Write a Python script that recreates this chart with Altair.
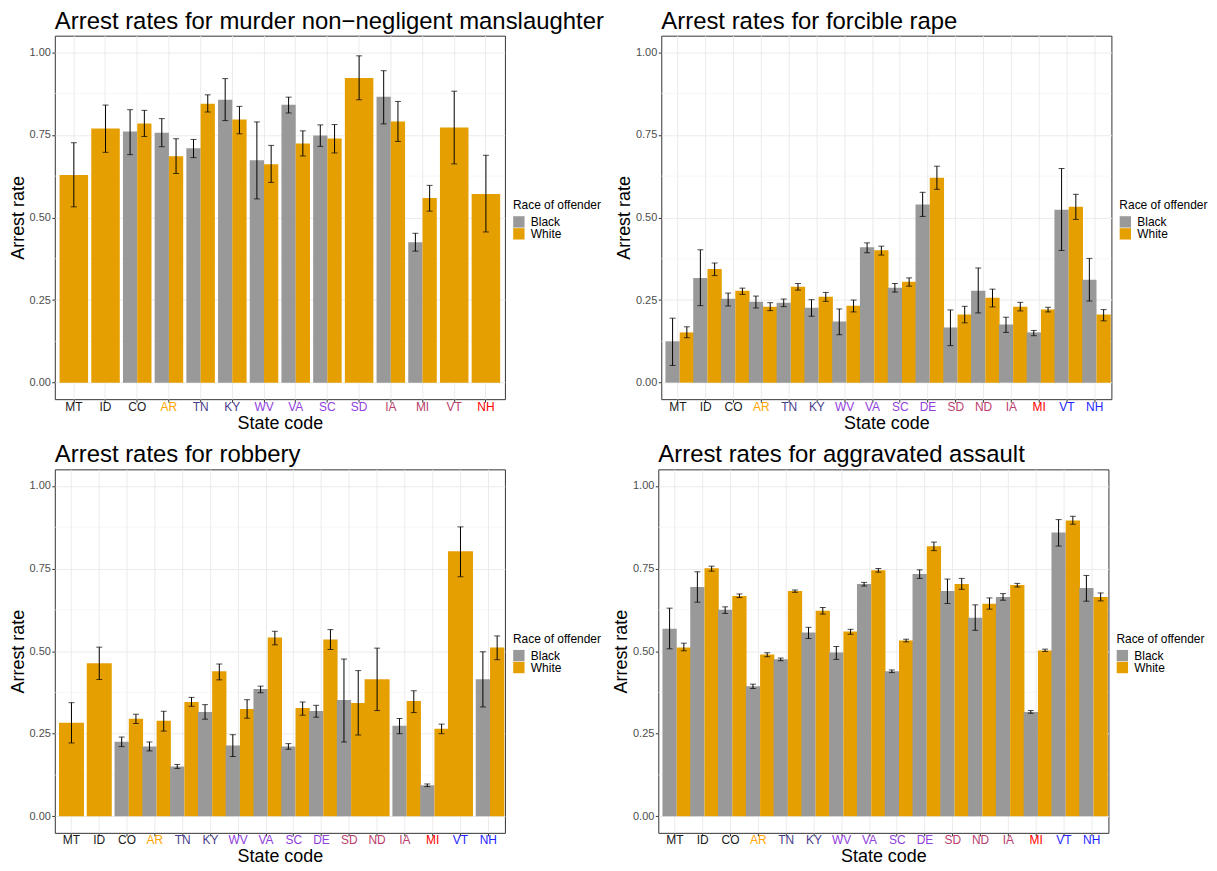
import altair as alt
import pandas as pd

RACES = ["Black", "White"]
BAR_COLORS = ["#999999", "#E69F00"]
Y_TICKS = [0.0, 0.25, 0.5, 0.75, 1.0]
Y_MINOR = [0.125, 0.375, 0.625, 0.875]

# label colours used on the x axis
C_BLK = "#1A1A1A"
C_ORA = "#FFA500"
C_SLA = "#483D8B"
C_PUR = "#9040DC"
C_MAR = "#BA3E6E"
C_RED = "#FF0000"
C_BLU = "#1E1EFF"

# ---------------- murder non-negligent manslaughter ----------------
murder_states = ["MT", "ID", "CO", "AR", "TN", "KY", "WV", "VA", "SC", "SD", "IA", "MI", "VT", "NH"]
murder_black = [None, None, 0.760, 0.756, 0.709, 0.856, 0.673, 0.841, 0.748, None, 0.865, 0.425, None, None]
murder_black_lo = [None, None, 0.690, 0.714, 0.681, 0.793, 0.556, 0.816, 0.715, None, 0.783, 0.398, None, None]
murder_black_hi = [None, None, 0.826, 0.799, 0.736, 0.920, 0.789, 0.864, 0.780, None, 0.944, 0.452, None, None]
murder_white = [0.628, 0.769, 0.784, 0.685, 0.844, 0.796, 0.661, 0.724, 0.739, 0.922, 0.790, 0.559, 0.772, 0.571]
murder_white_lo = [0.532, 0.697, 0.745, 0.633, 0.819, 0.753, 0.606, 0.686, 0.695, 0.856, 0.730, 0.519, 0.662, 0.456]
murder_white_hi = [0.726, 0.840, 0.824, 0.738, 0.871, 0.836, 0.718, 0.762, 0.781, 0.989, 0.851, 0.597, 0.882, 0.688]
murder_label_colors = [C_BLK, C_BLK, C_BLK, C_ORA, C_SLA, C_SLA, C_PUR, C_PUR, C_PUR, C_PUR, C_MAR, C_MAR, C_MAR, C_RED]

# ---------------- the other three offences share states ----------------
states16 = ["MT", "ID", "CO", "AR", "TN", "KY", "WV", "VA", "SC", "DE", "SD", "ND", "IA", "MI", "VT", "NH"]
label_colors16 = [C_BLK, C_BLK, C_BLK, C_ORA, C_SLA, C_SLA, C_PUR, C_PUR, C_PUR, C_PUR, C_MAR, C_MAR, C_MAR, C_RED, C_BLU, C_BLU]

rape_black = [0.125, 0.317, 0.254, 0.245, 0.242, 0.227, 0.185, 0.410, 0.287, 0.539, 0.167, 0.278, 0.176, 0.152, 0.523, 0.311]
rape_black_lo = [0.052, 0.233, 0.232, 0.226, 0.230, 0.201, 0.145, 0.393, 0.274, 0.503, 0.112, 0.211, 0.152, 0.142, 0.400, 0.247]
rape_black_hi = [0.195, 0.402, 0.271, 0.262, 0.253, 0.251, 0.223, 0.423, 0.300, 0.576, 0.220, 0.347, 0.198, 0.158, 0.648, 0.376]
rape_white = [0.152, 0.344, 0.278, 0.230, 0.290, 0.260, 0.233, 0.401, 0.305, 0.620, 0.206, 0.257, 0.230, 0.221, 0.532, 0.206]
rape_white_lo = [0.136, 0.324, 0.267, 0.218, 0.280, 0.246, 0.214, 0.386, 0.292, 0.585, 0.181, 0.229, 0.217, 0.214, 0.494, 0.187]
rape_white_hi = [0.169, 0.362, 0.286, 0.242, 0.300, 0.273, 0.250, 0.413, 0.317, 0.655, 0.231, 0.283, 0.243, 0.228, 0.570, 0.221]

robbery_black = [None, None, 0.226, 0.211, 0.151, 0.316, 0.214, 0.385, 0.211, 0.319, 0.352, None, 0.274, 0.094, None, 0.415]
robbery_black_lo = [None, None, 0.211, 0.198, 0.145, 0.294, 0.181, 0.374, 0.203, 0.300, 0.225, None, 0.250, 0.090, None, 0.331]
robbery_black_hi = [None, None, 0.240, 0.225, 0.157, 0.338, 0.247, 0.394, 0.220, 0.336, 0.476, None, 0.296, 0.098, None, 0.498]
robbery_white = [0.283, 0.463, 0.295, 0.289, 0.346, 0.439, 0.325, 0.541, 0.328, 0.535, 0.343, 0.415, 0.349, 0.265, 0.802, 0.511]
robbery_white_lo = [0.222, 0.414, 0.281, 0.258, 0.333, 0.413, 0.297, 0.519, 0.306, 0.505, 0.246, 0.320, 0.314, 0.250, 0.725, 0.474]
robbery_white_hi = [0.344, 0.512, 0.309, 0.318, 0.360, 0.461, 0.353, 0.560, 0.346, 0.565, 0.441, 0.509, 0.380, 0.279, 0.876, 0.546]

assault_black = [0.568, 0.694, 0.625, 0.394, 0.475, 0.556, 0.496, 0.703, 0.439, 0.733, 0.682, 0.601, 0.664, 0.316, 0.859, 0.691]
assault_black_lo = [0.507, 0.648, 0.614, 0.387, 0.471, 0.538, 0.475, 0.697, 0.435, 0.720, 0.644, 0.563, 0.654, 0.312, 0.818, 0.651]
assault_black_hi = [0.630, 0.740, 0.634, 0.400, 0.479, 0.572, 0.514, 0.708, 0.443, 0.746, 0.718, 0.640, 0.674, 0.320, 0.898, 0.729]
assault_white = [0.511, 0.751, 0.667, 0.490, 0.682, 0.622, 0.559, 0.745, 0.532, 0.817, 0.703, 0.643, 0.700, 0.502, 0.895, 0.664]
assault_white_lo = [0.501, 0.742, 0.662, 0.483, 0.678, 0.612, 0.551, 0.739, 0.528, 0.804, 0.687, 0.627, 0.694, 0.499, 0.884, 0.652]
assault_white_hi = [0.524, 0.757, 0.673, 0.495, 0.685, 0.632, 0.566, 0.750, 0.536, 0.830, 0.720, 0.661, 0.705, 0.506, 0.908, 0.676]

FONT = "Liberation Sans"
PANEL_W = 452
PANEL_H = 365


def build_frame(states, black, blo, bhi, white, wlo, whi):
    rows = []
    for i, s in enumerate(states):
        n = int(black[i] is not None) + int(white[i] is not None)
        if black[i] is not None:
            rows.append(dict(state=s, race="Black", rate=black[i], lo=blo[i], hi=bhi[i], paired=(n == 2)))
        if white[i] is not None:
            rows.append(dict(state=s, race="White", rate=white[i], lo=wlo[i], hi=whi[i], paired=(n == 2)))
    return pd.DataFrame(rows)


def color_expr(states, colors):
    expr = "'#1A1A1A'"
    for s, c in reversed(list(zip(states, colors))):
        expr = f"datum.value == '{s}' ? '{c}' : ({expr})"
    return expr


def panel(title, states, label_colors, black, blo, bhi, white, wlo, whi):
    df = build_frame(states, black, blo, bhi, white, wlo, whi)
    base = alt.Chart(df)

    x_axis = alt.Axis(
        title="State code", labelColor=alt.ExprRef(expr=color_expr(states, label_colors)),
        labelFontSize=12, labelAngle=0, titleFontSize=18, titleFontWeight="normal",
        titleColor="black", bandPosition=0.5, grid=True, gridColor="#EBEBEB",
        gridWidth=1, ticks=True, tickColor="#333333", tickSize=3, domain=False,
        labelPadding=-1, titlePadding=2, labelFont=FONT, titleFont=FONT,
    )
    x_scale = alt.Scale(domain=states, paddingInner=0.1, paddingOuter=0.15)
    xenc = alt.X("state:N", sort=states, scale=x_scale, axis=x_axis)

    y_scale = alt.Scale(domain=[-0.05, 1.05], nice=False, zero=False)
    y_axis = alt.Axis(
        title="Arrest rate", values=Y_TICKS, format=".2f", labelFontSize=11,
        labelColor="#4D4D4D", titleFontSize=18, titleFontWeight="normal",
        titleColor="black", grid=True, gridColor="#EBEBEB", gridWidth=1,
        tickColor="#333333", tickSize=3, domain=False, labelPadding=1.5,
        titlePadding=2, labelFont=FONT, titleFont=FONT,
    )

    def yq(field):
        return alt.Y(f"{field}:Q", scale=y_scale, axis=y_axis)

    xoff = alt.XOffset("race:N", scale=alt.Scale(domain=RACES, paddingInner=0, paddingOuter=0))
    color = alt.Color(
        "race:N",
        scale=alt.Scale(domain=RACES, range=BAR_COLORS),
        legend=alt.Legend(
            title="Race of offender", orient="none", legendX=460, legendY=165,
            symbolType="square", symbolSize=130, symbolStrokeWidth=0,
            symbolOpacity=1, titleFontSize=12, labelFontSize=12,
            titleFontWeight="normal", titleColor="black", labelColor="black",
            rowPadding=0, labelOffset=6, titlePadding=4, titleFont=FONT,
            labelFont=FONT,
        ),
    )

    minor = alt.Chart(pd.DataFrame({"m": Y_MINOR})).mark_rule(
        color="#F2F2F2", strokeWidth=0.6
    ).encode(y=yq("m"))

    paired = base.transform_filter("datum.paired")
    single = base.transform_filter("!datum.paired")

    bars_p = paired.mark_bar().encode(x=xenc, xOffset=xoff, y=yq("rate"), color=color)
    bars_s = single.mark_bar().encode(x=xenc, y=yq("rate"), color=color)

    err_p = paired.mark_rule(color="black", strokeWidth=1).encode(
        x=xenc, xOffset=xoff, y=yq("lo"), y2="hi:Q")
    err_s = single.mark_rule(color="black", strokeWidth=1).encode(
        x=xenc, y=yq("lo"), y2="hi:Q")
    cap_lo_p = paired.mark_tick(color="black", size=6, thickness=1, orient="horizontal").encode(
        x=xenc, xOffset=xoff, y=yq("lo"))
    cap_hi_p = paired.mark_tick(color="black", size=6, thickness=1, orient="horizontal").encode(
        x=xenc, xOffset=xoff, y=yq("hi"))
    cap_lo_s = single.mark_tick(color="black", size=6, thickness=1, orient="horizontal").encode(
        x=xenc, y=yq("lo"))
    cap_hi_s = single.mark_tick(color="black", size=6, thickness=1, orient="horizontal").encode(
        x=xenc, y=yq("hi"))

    return alt.layer(
        minor, bars_p, bars_s, err_p, err_s, cap_lo_p, cap_hi_p, cap_lo_s, cap_hi_s
    ).properties(
        width=PANEL_W, height=PANEL_H,
        title=alt.TitleParams(
            text=title, anchor="start", frame="group", fontSize=24,
            fontWeight="normal", font=FONT, color="black", offset=2,
        ),
    )


p1 = panel("Arrest rates for murder non\u2212negligent manslaughter", murder_states,
           murder_label_colors, murder_black, murder_black_lo, murder_black_hi,
           murder_white, murder_white_lo, murder_white_hi)
p2 = panel("Arrest rates for forcible rape", states16, label_colors16,
           rape_black, rape_black_lo, rape_black_hi, rape_white, rape_white_lo, rape_white_hi)
p3 = panel("Arrest rates for robbery", states16, label_colors16,
           robbery_black, robbery_black_lo, robbery_black_hi, robbery_white,
           robbery_white_lo, robbery_white_hi)
p4 = panel("Arrest rates for aggravated assault", states16, label_colors16,
           assault_black, assault_black_lo, assault_black_hi, assault_white,
           assault_white_lo, assault_white_hi)

row1 = alt.hconcat(p1, p2, spacing=9).resolve_scale(color="independent", x="independent").resolve_legend(color="independent")
row2 = alt.hconcat(p3, p4, spacing=9).resolve_scale(color="independent", x="independent").resolve_legend(color="independent")

chart = alt.vconcat(row1, row2, spacing=9.5).resolve_scale(
    color="independent", x="independent"
).resolve_legend(color="independent").properties(
    padding={"left": 0, "top": -1, "right": 0, "bottom": 0}
).configure(
    font=FONT, background="white",
    view=alt.ViewConfig(stroke="#333333", strokeWidth=1),
)

chart.save("out.html", embed_options={"renderer": "svg", "actions": False})
